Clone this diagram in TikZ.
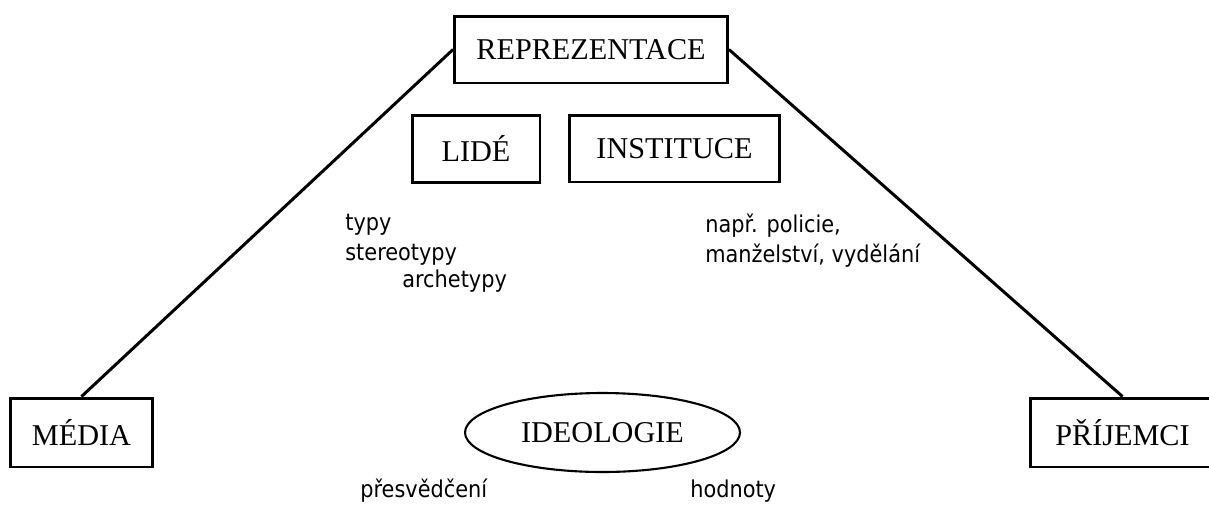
\documentclass[tikz,border=0pt]{standalone}
\usepackage{fontspec}
\setmainfont{Liberation Serif}
\newfontfamily\popisfont{DejaVu Sans Condensed}
\usetikzlibrary{positioning}
\usetikzlibrary{shapes.geometric}
\tikzset{
	every node/.style = {font=\fontsize{17.2}{20}\selectfont},
	pojem/.style = {draw, line width=1.7pt, minimum height=1.34cm, inner sep=0pt},
	spoj/.style = {line width=1.7pt},
	popis/.style = {anchor=base west, inner sep=0pt, font=\popisfont\fontsize{13.2}{16}\selectfont}
}
\begin{document}
\begin{tikzpicture}[x=0.02cm, y=-0.02cm]
		\useasboundingbox (0,0) rectangle (1209,504);
		
		\node[pojem, minimum width=5.46cm] (reprezentace) at (591,49.5) {REPREZENTACE};
		\node[pojem, minimum width=2.56cm] (lide) at (476,149) {LIDÉ};
		\node[pojem, minimum width=4.22cm] (instituce) at (674.5,148.5) {INSTITUCE};
		\node[pojem, minimum width=2.86cm, minimum height=1.38cm] (media) at (81.5,432.5) {MÉDIA};
		\node[pojem, minimum width=3.7cm, minimum height=1.38cm] (prijemci) at (1122.5,432.5) {PŘÍJEMCI};
		\node[ellipse, draw, line width=1.2pt, minimum width=5.5cm, minimum height=1.58cm, inner sep=0pt] (ideologie) at (602.5,432.5) {IDEOLOGIE};
		
		\draw[spoj] (reprezentace.west) -- (media.north);
		\draw[spoj] (reprezentace.east) -- (prijemci.north);
		
		\node[popis] (typy) at (345,230) {typy};
		\node[popis] (stereotypy) at (345,260) {stereotypy};
		\node[popis] (archetypy) at (402,287) {archetypy};
		\node[popis] (policie) at (705,232) {např. policie,};
		\node[popis] (manzelstvi) at (705,262) {manželství, vydělání};
		\node[popis] (presvedceni) at (360,497) {přesvědčení};
		\node[popis] (hodnoty) at (690,497) {hodnoty};
	\end{tikzpicture}
\end{document}
